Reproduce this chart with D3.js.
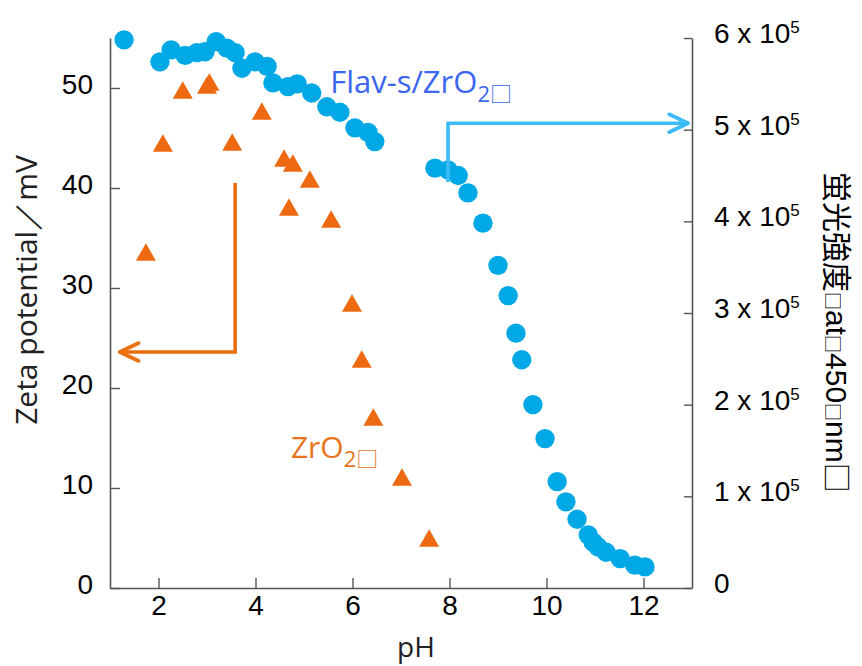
<!DOCTYPE html>
<html><head><meta charset="utf-8">
<script src="https://cdn.jsdelivr.net/npm/d3@7"></script>
<style>body{margin:0;background:#fff}svg{display:block}</style>
</head><body>
<svg id="chart" width="862" height="666"></svg>
<script>
// ---- data ----
const xTicks = [2, 4, 6, 8, 10, 12];
const zetaTicks = [0, 10, 20, 30, 40, 50];
const fluorTicks = [0, 1e5, 2e5, 3e5, 4e5, 5e5, 6e5];
const fluorTickMantissa = ["0", "1", "2", "3", "4", "5", "6"];
const fluorTickExponent = "5";

// Flav-s/ZrO2 : fluorescence intensity (right axis)
const flavPH = [1.29, 2.03, 2.26, 2.55, 2.79, 2.96, 3.19, 3.41, 3.58, 3.72, 3.99, 4.24, 4.36, 4.67, 4.86,
  5.16, 5.47, 5.74, 6.05, 6.32, 6.46, 7.70, 7.97, 8.18, 8.38, 8.69, 9.00, 9.21, 9.37, 9.49, 9.72, 9.97,
  10.22, 10.40, 10.63, 10.86, 10.96, 11.06, 11.23, 11.52, 11.82, 12.03];
const flavFluor = [5.98e5, 5.74e5, 5.87e5, 5.81e5, 5.84e5, 5.85e5, 5.96e5, 5.89e5, 5.84e5, 5.67e5, 5.74e5, 5.69e5, 5.51e5, 5.47e5, 5.50e5,
  5.40e5, 5.25e5, 5.19e5, 5.02e5, 4.97e5, 4.87e5, 4.58e5, 4.56e5, 4.50e5, 4.31e5, 3.98e5, 3.52e5, 3.19e5, 2.78e5, 2.49e5, 2.00e5, 1.63e5,
  1.16e5, 0.94e5, 0.75e5, 0.58e5, 0.50e5, 0.45e5, 0.39e5, 0.32e5, 0.25e5, 0.23e5];

// ZrO2 : zeta potential (left axis)
const zrPH = [1.74, 2.09, 2.50, 3.00, 3.05, 3.52, 4.13, 4.59, 4.69, 4.77, 5.12, 5.56, 5.99, 6.19, 6.43, 7.02, 7.58];
const zrZeta = [33.6, 44.5, 49.8, 50.3, 50.6, 44.6, 47.7, 43.0, 38.1, 42.5, 40.9, 36.9, 28.5, 22.9, 17.1, 11.1, 5.0];

// annotations (data units)
const flavLabel = {x: 5.54, y: 49.5, main: "Flav-s/ZrO", sub: "2", tail: "□"};
const zrLabel = {x: 4.73, y: 13.0, main: "ZrO", sub: "2", tail: "□"};
const blueArrowPath = [[7.97, 4.43e5], [7.97, 5.07e5], [12.92, 5.07e5]];   // right axis units
const orangeArrowPath = [[3.58, 40.5], [3.58, 23.6], [1.2, 23.6]];       // left axis units

const xTitle = "pH";
const yLeftTitle = "Zeta potential／mV";
const yRightTitleParts = [["蛍光強度", "cjk"], ["□", "box"], ["at", "lat"], ["□", "box"], ["450", "lat"], ["□", "box"], ["nm", "lat"], ["□", "cjk"]];

// ---- chart ----
const svg = d3.select("#chart");
const x = d3.scaleLinear().domain([1, 13]).range([110, 692]);
const yL = d3.scaleLinear().domain([0, 55]).range([588, 38]);
const yR = d3.scaleLinear().domain([0, 6e5]).range([588, 38]);

const axisColor = "#555";
const tickFont = "'Liberation Sans', Arial, sans-serif";
const titleFont = "'Open Sans', 'Noto Sans', sans-serif";

// bottom axis
const gx = svg.append("g").attr("transform", "translate(0,588)")
  .call(d3.axisBottom(x).tickValues(xTicks).tickSizeInner(-10).tickSizeOuter(0).tickPadding(7));
// left axis
const gl = svg.append("g").attr("transform", "translate(110,0)")
  .call(d3.axisLeft(yL).tickValues(zetaTicks).tickSizeInner(-10).tickSizeOuter(0).tickPadding(17));
gl.selectAll(".tick text").attr("dy", "0.2em");
// right axis
const gr = svg.append("g").attr("transform", "translate(692,0)")
  .call(d3.axisRight(yR).tickValues(fluorTicks).tickSizeInner(-8).tickSizeOuter(0).tickFormat(() => ""));

[gx, gl, gr].forEach(g => {
  g.select(".domain").attr("stroke", axisColor).attr("stroke-width", 1.6);
  g.selectAll(".tick line").attr("stroke", axisColor).attr("stroke-width", 1.4);
  g.selectAll(".tick text").attr("fill", "#000").style("font-family", tickFont).style("font-size", "28px");
});

// right tick labels "n x 10^5"
const rl = svg.append("g");
fluorTicks.forEach((v, i) => {
  const t = rl.append("text").attr("x", 714).attr("y", yR(v) + 5)
    .style("font-family", tickFont).style("font-size", "28px").attr("fill", "#000");
  if (v === 0) { t.text(fluorTickMantissa[i]); return; }
  t.append("tspan").text(fluorTickMantissa[i] + " x 10");
  t.append("tspan").attr("dy", -10).style("font-size", "17px").text(fluorTickExponent);
});

// circles: Flav-s/ZrO2
const flavData = flavPH.map((p, i) => ({p, v: flavFluor[i]}));
svg.append("g").selectAll("circle").data(flavData).join("circle")
  .attr("cx", d => x(d.p)).attr("cy", d => yR(d.v)).attr("r", 9.7).attr("fill", "#00A9E6");

// triangles: ZrO2
const tri = {draw(ctx, size) { const w = 10, h = 8.7; ctx.moveTo(0, -h); ctx.lineTo(w, h); ctx.lineTo(-w, h); ctx.closePath(); }};
const zrData = zrPH.map((p, i) => ({p, v: zrZeta[i]}));
svg.append("g").selectAll("path").data(zrData).join("path")
  .attr("d", d3.symbol(tri, 1)())
  .attr("transform", d => `translate(${x(d.p)},${yL(d.v)})`)
  .attr("fill", "#EE6A12");

// arrows
function arrow(pts, ys, color) {
  const px = pts.map(d => [x(d[0]), ys(d[1])]);
  svg.append("path").attr("d", d3.line()(px)).attr("fill", "none")
    .attr("stroke", color).attr("stroke-width", 3.6);
  const [a, b] = [px[px.length - 2], px[px.length - 1]];
  const ang = Math.atan2(b[1] - a[1], b[0] - a[0]);
  const L = 19, W = 9;
  const back = [b[0] - L * Math.cos(ang), b[1] - L * Math.sin(ang)];
  const nx = -Math.sin(ang), ny = Math.cos(ang);
  svg.append("path").attr("d", d3.line()([[back[0] + W * nx, back[1] + W * ny], b, [back[0] - W * nx, back[1] - W * ny]]))
    .attr("fill", "none").attr("stroke", color).attr("stroke-width", 3.6).attr("stroke-linecap", "round").attr("stroke-linejoin", "round");
}
arrow(blueArrowPath, yR, "#3DBBF6");
arrow(orangeArrowPath, yL, "#E8700F");

// series labels
function seriesLabel(lab, color, size) {
  const t = svg.append("text").attr("x", x(lab.x)).attr("y", yL(lab.y))
    .style("font-family", titleFont).style("font-size", size + "px").attr("fill", color);
  t.append("tspan").text(lab.main);
  t.append("tspan").attr("dy", 9).style("font-size", "22px").text(lab.sub);
  t.append("tspan").style("font-size", "22px").style("font-family", "'Noto Sans CJK JP'").text(lab.tail);
}
seriesLabel(flavLabel, "#3B66F0", 31);
seriesLabel(zrLabel, "#E8741C", 30);

// axis titles
svg.append("text").attr("x", 416).attr("y", 657).attr("text-anchor", "middle")
  .style("font-family", titleFont).style("font-size", "28px").attr("fill", "#222").text(xTitle);
svg.append("text").attr("transform", "translate(37,290) rotate(-90)").attr("text-anchor", "middle")
  .style("font-family", titleFont).style("font-size", "30px").attr("fill", "#222").text(yLeftTitle);
const rt = svg.append("text").attr("transform", "translate(826,172) rotate(90)").attr("fill", "#000");
yRightTitleParts.forEach(([s, kind]) => {
  const ts = rt.append("tspan").text(s);
  if (kind === "cjk") ts.style("font-family", "'Noto Sans CJK JP'").style("font-size", "30px");
  else if (kind === "box") ts.style("font-family", "'Noto Sans CJK JP'").style("font-size", "18px");
  else ts.style("font-family", tickFont).style("font-size", "30px");
});
</script>
</body></html>
